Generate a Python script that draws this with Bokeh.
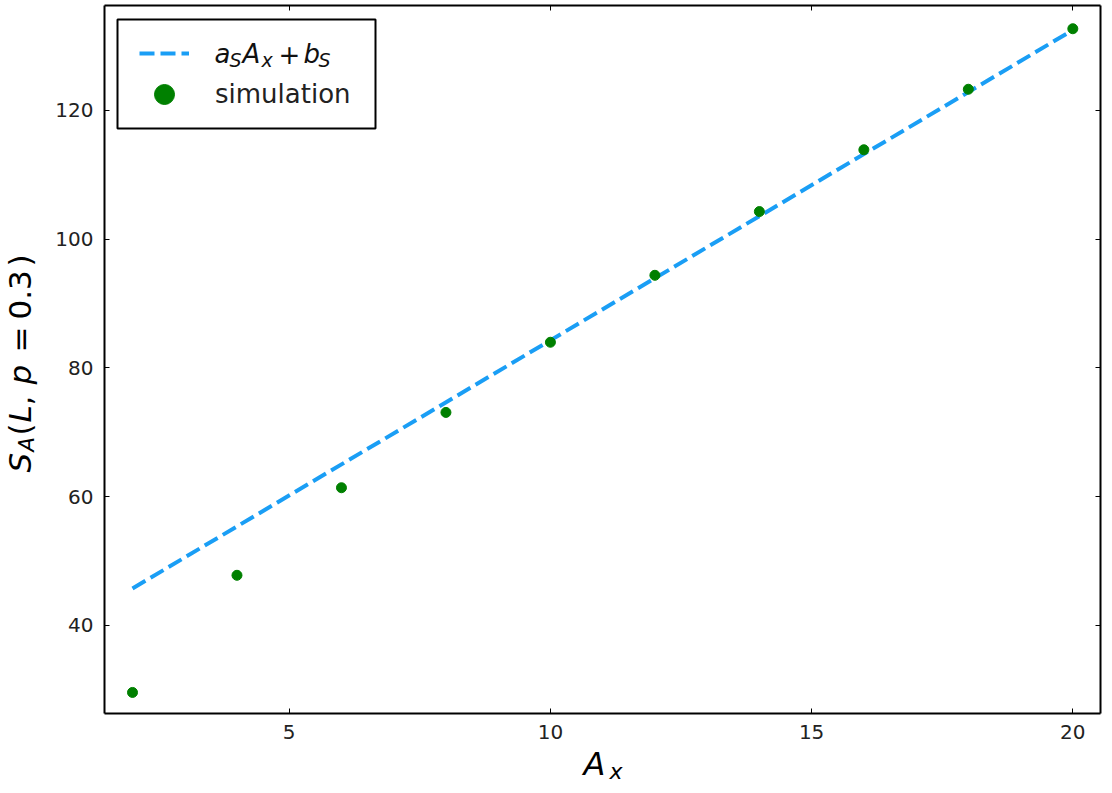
import math
from bokeh.plotting import figure
from bokeh.models import (Range1d, FixedTicker, LinearAxis, Label, Legend,
                          LegendItem, ColumnDataSource, BoxAnnotation)
from bokeh.embed import file_html
from bokeh.resources import INLINE

# ---------------- data ----------------
ax_values = [2, 4, 6, 8, 10, 12, 14, 16, 18, 20]
sim_values = [29.6, 47.8, 61.4, 73.1, 84.0, 94.4, 104.3, 113.9, 123.3, 132.7]
fit_x = [2, 20]
fit_y = [45.75, 132.5]
x_ticks = [5, 10, 15, 20]
y_ticks = [40, 60, 80, 100, 120]
legend_sim_label = "simulation"

# axis limits of the plotting box
XMIN, XMAX = 1.464, 20.53
YMIN, YMAX = 26.33, 136.31

# ---------------- layout (canvas pixels) ----------------
W, H = 1104, 785
BOX_L, BOX_R, BOX_T, BOX_B = 104, 1100, 5, 713

sx = (XMAX - XMIN) / (BOX_R - BOX_L)
sy = (YMAX - YMIN) / (BOX_B - BOX_T)
x_range = Range1d(XMIN - BOX_L * sx, XMAX + (W - BOX_R) * sx)
y_range = Range1d(YMIN - (H - BOX_B) * sy, YMAX + BOX_T * sy)

p = figure(width=W, height=H, output_backend="svg", toolbar_location=None,
           x_range=x_range, y_range=y_range,
           min_border=0, min_border_left=0, min_border_right=0,
           min_border_top=0, min_border_bottom=0,
           background_fill_color="white", border_fill_color="white")
p.xgrid.visible = False
p.ygrid.visible = False
p.outline_line_color = None

FONT = "DejaVu Sans"
TICK_COLOR = "#222222"

def style_axis(ax, ticks, bounds, loc, show_labels, standoff=8):
    ax.ticker = FixedTicker(ticks=ticks)
    ax.bounds = bounds
    ax.fixed_location = loc
    ax.minor_tick_line_color = None
    ax.major_tick_in = 5
    ax.major_tick_out = 0
    ax.major_tick_line_color = "black"
    ax.major_tick_line_width = 1
    ax.axis_line_color = "black"
    ax.axis_line_width = 2
    if show_labels:
        ax.major_label_text_font = FONT
        ax.major_label_text_font_size = "20px"
        ax.major_label_text_color = TICK_COLOR
        ax.major_label_standoff = standoff
    else:
        ax.major_label_text_font_size = "0px"
        ax.major_label_text_alpha = 0
        ax.major_label_standoff = 0

style_axis(p.xaxis[0], x_ticks, (XMIN, XMAX), YMIN, True, standoff=11)
style_axis(p.yaxis[0], y_ticks, (YMIN, YMAX), XMIN, True, standoff=11)

top_axis = LinearAxis()
style_axis(top_axis, x_ticks, (XMIN, XMAX), YMAX, False)
p.add_layout(top_axis, "above")
right_axis = LinearAxis()
style_axis(right_axis, y_ticks, (YMIN, YMAX), XMAX, False)
p.add_layout(right_axis, "right")

# ---------------- glyphs ----------------
line_src = ColumnDataSource(dict(x=fit_x, y=fit_y))
sim_src = ColumnDataSource(dict(x=ax_values, y=sim_values))
LINE_COLOR = "#1a9ef5"
fit_r = p.line("x", "y", source=line_src, line_color=LINE_COLOR, line_width=4,
               line_dash="15 6")
sim_r = p.scatter("x", "y", source=sim_src, size=10, marker="circle",
                  fill_color="#008000", line_color="#008000")

# ---------------- legend ----------------
p.add_layout(BoxAnnotation(left=117, right=375, top=H - 19, bottom=H - 128,
                           left_units="screen", right_units="screen",
                           top_units="screen", bottom_units="screen",
                           fill_alpha=1, fill_color="white",
                           line_color="black", line_alpha=1, line_width=2,
                           level="underlay"))

GLYPH_L = 139
leg1 = Legend(items=[LegendItem(label=" ", renderers=[fit_r])],
              location=(GLYPH_L, H - 68), margin=0, padding=0,
              glyph_width=50, glyph_height=30, label_standoff=26,
              label_text_font=FONT, label_text_font_size="26px",
              border_line_alpha=0, background_fill_alpha=0)
leg2 = Legend(items=[LegendItem(label=legend_sim_label, renderers=[sim_r])],
              location=(GLYPH_L, H - 120), margin=0, padding=0,
              glyph_width=50, glyph_height=52, label_standoff=26,
              label_text_font=FONT, label_text_font_size="26px",
              label_text_color=TICK_COLOR, label_text_baseline="middle",
              border_line_alpha=0, background_fill_alpha=0)
p.add_layout(leg1, "center")
p.add_layout(leg2, "center")

# ---------------- math texts (canvas pixel positions of the baseline start) ----------------
K = 0.33   # empirical baseline correction (fraction of font size)

def put(text, X, Y, size, italic=False, rotated=False, color="#111111"):
    if rotated:
        X = X - K * size
        angle = math.pi / 2
    else:
        Y = Y - K * size
        angle = 0.0
    p.add_layout(Label(x=X, y=H - Y, x_units="screen", y_units="screen",
                       text=text, text_font=FONT, text_font_size=f"{size}px",
                       text_font_style="italic" if italic else "normal",
                       text_color=color, angle=angle, text_align="left",
                       text_baseline="alphabetic"))

# legend math label  a_S A_x + b_S
put("a", 214, 62, 26, True)
put("S", 229, 66, 19, True)
put("A", 242, 62, 26, True)
put("x", 261, 66, 19, True)
put("+", 278, 62, 26, False)
put("b", 303, 62, 26, True)
put("S", 318, 66, 19, True)

# x axis label  A_x
put("A", 583, 774, 32, True, color="black")
put("x", 609, 778, 22, True, color="black")

# y axis label  S_A(L, p = 0.3)
put("S", 30, 472, 31, True, True, "black")
put("A", 33, 451, 21, True, True, "black")
put("(", 30, 435, 31, False, True, "black")
put("L", 30, 422, 31, True, True, "black")
put(",", 30, 405, 31, False, True, "black")
put("p", 30, 384, 31, True, True, "black")
put("=", 30, 352, 31, False, True, "black")
put("0.3", 30, 319, 31, False, True, "black")
put(")", 30, 266, 31, False, True, "black")

open("out.html", "w").write(file_html(p, INLINE))
